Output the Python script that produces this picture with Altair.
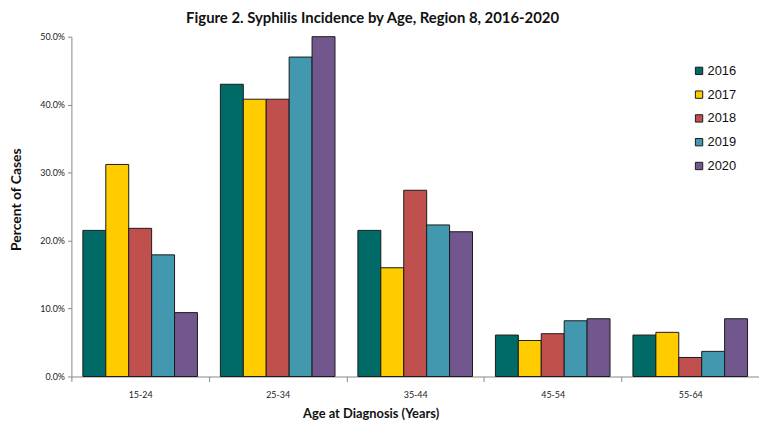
import altair as alt
import pandas as pd

ages = ["15-24", "25-34", "35-44", "45-54", "55-64"]
years = ["2016", "2017", "2018", "2019", "2020"]
pct_2016 = [21.5, 43.0, 21.5, 6.1, 6.1]
pct_2017 = [31.2, 40.8, 16.0, 5.3, 6.5]
pct_2018 = [21.8, 40.8, 27.4, 6.3, 2.8]
pct_2019 = [17.9, 47.0, 22.3, 8.2, 3.7]
pct_2020 = [9.4, 50.0, 21.3, 8.5, 8.5]
colors = ["#006B66", "#FFCC00", "#C0504D", "#4198AF", "#72578F"]

series = [pct_2016, pct_2017, pct_2018, pct_2019, pct_2020]
rows = []
for y, vals in zip(years, series):
    for a, v in zip(ages, vals):
        rows.append({"age": a, "year": y, "pct": v / 100.0})
df = pd.DataFrame(rows)

font_small = "Lato"
font_title = "Lato"

chart = alt.Chart(df).mark_bar(stroke="#1a1a1a", strokeWidth=1).encode(
    x=alt.X(
        "age:N",
        sort=ages,
        scale=alt.Scale(paddingInner=0, paddingOuter=0),
        axis=alt.Axis(
            title="Age at Diagnosis (Years)",
            labelAngle=0,
            labelFont=font_small,
            labelFontSize=9,
            labelColor="#222222",
            labelPadding=9,
            tickBand="extent",
            tickSize=5,
            tickColor="#888888",
            domainColor="#888888",
            titleFont=font_title,
            titleFontSize=13,
            titleFontWeight="bold",
            titleColor="#111111",
            titleX=302,
            titleY=41,
            titleBaseline="alphabetic",
            titleAnchor="start",
            titleAlign="center",
        ),
    ),
    xOffset=alt.XOffset(
        "year:N",
        sort=years,
        scale=alt.Scale(paddingInner=0, paddingOuter=0.5),
    ),
    y=alt.Y(
        "pct:Q",
        scale=alt.Scale(domain=[0, 0.5], nice=False, clamp=True),
        axis=alt.Axis(
            title="Percent of Cases",
            format=".1%",
            values=[0, 0.1, 0.2, 0.3, 0.4, 0.5],
            grid=False,
            labelFont=font_small,
            labelFontSize=9,
            labelColor="#222222",
            labelPadding=3,
            tickSize=4,
            tickColor="#888888",
            domainColor="#888888",
            titleFont=font_title,
            titleFontSize=14,
            titleFontWeight="bold",
            titleColor="#111111",
            titleAngle=-90,
            titleX=-55,
            titleY=164,
            titleAlign="center",
            titleBaseline="middle",
        ),
    ),
    color=alt.Color(
        "year:N",
        sort=years,
        scale=alt.Scale(domain=years, range=colors),
        legend=alt.Legend(
            title=None,
            orient="none",
            legendX=627,
            legendY=28,
            symbolType="square",
            symbolSize=55,
            symbolStrokeColor="#1a1a1a",
            symbolStrokeWidth=1,
            labelFont="Liberation Sans",
            labelFontSize=13,
            labelColor="#111111",
            labelOffset=2,
            rowPadding=10,
        ),
    ),
).properties(
    width=694,
    height=343,
    autosize=alt.AutoSizeParams(type="none"),
    padding={"left": 64, "top": 27, "right": 0, "bottom": 47},
    title=alt.TitleParams(
        "Figure 2. Syphilis Incidence by Age, Region 8, 2016-2020",
        font=font_title,
        fontSize=15,
        fontWeight="bold",
        color="#111111",
        anchor="middle",
        dx=-43,
        offset=7,
    ),
).configure_view(stroke=None)

chart.save("out.html", embed_options={"renderer": "svg", "actions": False})
